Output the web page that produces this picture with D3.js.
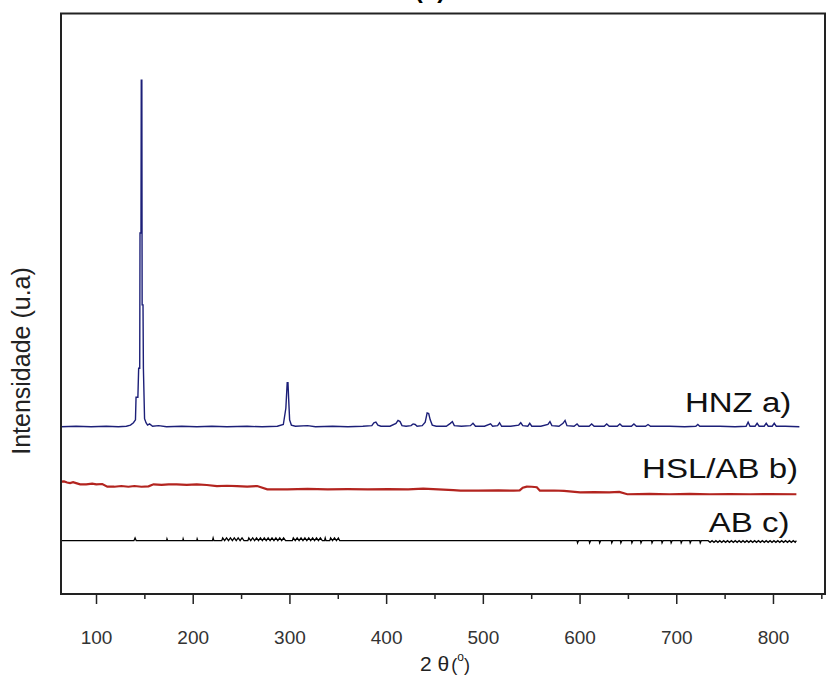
<!DOCTYPE html>
<html>
<head>
<meta charset="utf-8">
<script src="https://cdn.jsdelivr.net/npm/d3@7"></script>
<style>
  html, body { margin: 0; padding: 0; background: #fff; }
  svg { display: block; font-family: "Liberation Sans", Arial, sans-serif; }
</style>
</head>
<body>
<svg id="chart" width="837" height="679"></svg>
<script>
// 2θ tick values on the bottom axis
const majorTicks = [100, 200, 300, 400, 500, 600, 700, 800];
const minorTicks = [150, 250, 350, 450, 550, 650, 750, 850];

// HNZ a) — offset diffractogram, [2θ, intensity]
const hnzData = [
  [63.8,288],[79.4,289],[95,288],[110.6,289],[123.1,288],[131.4,289],[135.6,291],
  [138.7,295],[140.8,300],[141.4,339],[143.3,339],[144.1,389],[145.2,389],[145.5,622],
  [146.5,622],[146.8,885],[147.4,885],[147.7,498],[148.6,498],[149,389],[150.2,302],
  [151.7,295],[153.3,291],[155.4,293],[158.5,289],[164.7,290],[173,288],[188.6,289],
  [204.2,288],[219.8,289],[235.4,288],[256.3,289],[271.9,288],[287.5,289],[293.7,292],
  [296.3,320],[297.7,364],[298.5,364],[299.1,340],[300.2,300],[302,291],[306.2,289],
  [318.7,290],[327,288],[344.7,289],[360.3,288],[375.9,289],[385.2,290],[387.3,295],
  [389.4,296],[391.5,291],[394.6,289],[404,289],[410.2,294],[412.3,299],[414.4,297],
  [416.4,290],[420.6,289],[425.8,290],[427.9,293],[430,292],[432,289],[437.3,290],
  [440.4,296],[442.4,312],[444,311],[445.6,300],[447.7,291],[451.8,289],[462.2,289],
  [466.4,294],[468.5,297],[470.5,290],[477.8,289],[487.2,290],[489.8,294],[492.4,289],
  [501.7,289],[508,293],[510.1,289],[515.3,290],[517.3,295],[519.4,289],[528.8,289],
  [537.1,291],[539.2,295],[541.3,290],[546.5,289],[548.5,294],[550.6,289],[560,289],
  [567.3,292],[569.4,297],[571.4,290],[578.7,289],[582.9,294],[585,299],[587,290],
  [594.3,289],[597.4,293],[599.5,289],[609.9,289],[612.5,293],[615.1,289],[625.5,289],
  [628.1,293],[630.7,289],[639,289],[641.7,293],[644.2,289],[653.6,289],[656.2,293],
  [658.8,289],[668.2,289],[670.8,292],[673.4,289],[693.1,289],[708.7,288],[720.2,289],
  [722.3,292],[724.3,289],[745.1,289],[760.7,288],[772.2,289],[774.3,296],[776.3,289],
  [781.5,289],[783.6,294],[785.7,289],[790.9,289],[793,294],[795.1,289],[799.2,289],
  [801.3,294],[803.4,289],[812.8,289],[827.3,288]
];

// HSL/AB b)
const hslData = [
  [63.8,193.5],[66.9,194],[70.1,192],[73.2,191.2],[76.3,192.5],[79.4,191],[83.6,189],
  [89.8,188.9],[96.1,190],[100.2,188.9],[106.5,189.5],[111.7,185],[118.9,184.8],
  [126.2,186],[133.5,184.8],[139.7,186],[147,184.8],[154.3,185.5],[159.5,188.9],
  [167.8,188],[175.1,189],[183.4,188.9],[193.8,188],[204.2,188.9],[214.6,187.8],
  [225,186],[235.4,186.5],[245.8,186],[256.3,185],[266.7,186],[277.1,180.3],
  [297.9,180.3],[318.7,181],[339.5,180.3],[360.3,180.6],[381.1,180.3],[401.9,180.8],
  [422.7,180.3],[438.3,181.5],[453.9,180.3],[469.5,179],[476.8,178],[495.5,178],
  [516.3,178.4],[531.9,178],[538.1,178.5],[541.3,183],[545.4,185],[550.6,184.8],
  [555.8,184],[559,178],[573.5,178.3],[583.9,177.5],[600.6,175.2],[615.1,175.6],
  [630.7,175.2],[641.1,176],[649.4,171.8],[672.3,172.4],[693.1,171.8],[713.9,172.6],
  [734.7,171.8],[755.5,172],[776.3,171.8],[797.2,172],[824.2,171.8]
];

// AB c)
const abData = [
  [63.8,91.8],[121,91.8],[139.2,91.8],[140.4,96.5],[141.6,91.8],[173,91.8],[173.4,95],
  [174.1,91.8],[189.7,91.8],[190.1,95],[190.7,91.8],[204.2,91.8],[204.6,95],[205.3,91.8],
  [220.4,91.8],[221.1,96.5],[221.9,91.8],
  [230,91.8],[231,96.5],[233,91.8],[235,96.5],[237,91.8],[239,96.5],[241,91.8],
  [243,96.5],[245,91.8],[247,96.5],[249,91.8],[251,96.5],[253,91.8],[254,91.8],
  [257,91.8],[258,96.5],[260,91.8],[262,96.5],[264,91.8],[266,96.5],[268,91.8],
  [270,96.5],[272,91.8],[274,96.5],[276,91.8],[278,96.5],[280,91.8],[282,96.5],
  [284,91.8],[286,96.5],[288,91.8],[290,96.5],[292,91.8],[294,96.5],[296,91.8],
  [298,91.8],
  [303,91.8],[304,96.5],[306,91.8],[308,96.5],[310,91.8],[312,96.5],[314,91.8],
  [316,96.5],[318,91.8],[320,96.5],[322,91.8],[324,96.5],[326,91.8],[328,96.5],
  [330,91.8],[332,96.5],[334,91.8],
  [336.3,91.8],[337,96.5],[337.8,91.8],
  [341.6,91.8],[342.6,96.5],[344.6,91.8],[346.6,96.5],[348.6,91.8],[350.6,96.5],
  [352,91.8],
  [412.3,91.8],[516.3,91.8],[597.4,91.8],[597.9,88],[598.9,91.8],[609.9,91.8],
  [610.4,88],[611.4,91.8],[620.3,91.8],[620.8,88],[621.8,91.8],[632.8,91.8],
  [633.3,88],[634.3,91.8],[642.2,91.8],[642.7,88],[643.7,91.8],[653.6,91.8],
  [654.1,88],[655.1,91.8],[663,91.8],[663.5,88],[664.5,91.8],[674.4,91.8],
  [674.9,88],[675.9,91.8],[684.8,91.8],[685.3,88],[686.3,91.8],[694.2,91.8],
  [694.7,88],[695.7,91.8],[704.6,91.8],[705.1,88],[706.1,91.8],[713.9,91.8],
  [714.4,88],[715.4,91.8],[724.3,91.8],[724.8,88],[725.8,91.8],
  [733,91.8],[735,89],[737,91.8],[739,89],[741,91.8],[743,89],[745,91.8],[747,89],
  [749,91.8],[751,89],[753,91.8],[755,89],[757,91.8],[759,89],[761,91.8],[763,89],
  [765,91.8],[767,89],[769,91.8],[771,89],[773,91.8],[775,89],[777,91.8],[779,89],
  [781,91.8],[783,89],[785,91.8],[787,89],[789,91.8],[791,89],[793,91.8],[795,89],
  [797,91.8],[799,89],[801,91.8],[803,89],[805,91.8],[807,89],[809,91.8],[811,89],
  [813,91.8],[815,89],[817,91.8],[819,89],[821,91.8],[823,89],[824.2,91.8]
];

const seriesLabels = ["HNZ a)", "HSL/AB b)", "AB c)"];
const seriesList = [hnzData, hslData, abData];
const seriesColors = ["#1c1f78", "#b3241f", "#000000"];
const seriesWidths = [1.4, 2.2, 1.3];

const svg = d3.select("#chart");
const W = 837, H = 679;
const margin = { top: 13.5, right: 12, bottom: 85, left: 61 };

const x = d3.scaleLinear().domain([63.8, 853.8]).range([margin.left, W - margin.right]);
const y = d3.scaleLinear().domain([0, 1000]).range([H - margin.bottom, margin.top]);

// panel heading, mostly above the visible area
svg.append("text")
  .attr("x", 430).attr("y", -2)
  .attr("text-anchor", "middle")
  .attr("font-size", 24).attr("font-weight", "bold")
  .text("(b)");

// curves
const line = d3.line().x(d => x(d[0])).y(d => y(d[1]));
seriesList.forEach((s, i) => {
  svg.append("path")
    .datum(s)
    .attr("d", line)
    .attr("fill", "none")
    .attr("stroke", seriesColors[i])
    .attr("stroke-width", seriesWidths[i])
    .attr("stroke-linejoin", "miter");
});

// curve labels (right-aligned, slightly wide lettering)
const labelPos = [
  { xv: 819, yv: 313 },
  { xv: 826, yv: 199 },
  { xv: 817, yv: 106 }
];
seriesLabels.forEach((t, i) => {
  svg.append("text")
    .attr("transform", `translate(${x(labelPos[i].xv)},${y(labelPos[i].yv)}) scale(1.18,1)`)
    .attr("text-anchor", "end")
    .attr("font-size", 28)
    .attr("fill", "#111")
    .text(t);
});

// bottom axis: major ticks with labels, minor ticks without
const xAxis = d3.axisBottom(x).tickValues(majorTicks).tickSize(10).tickPadding(27)
  .tickFormat(d3.format("d"));
const gx = svg.append("g")
  .attr("transform", `translate(0,${H - margin.bottom})`)
  .call(xAxis);
gx.select(".domain").remove();
gx.selectAll(".tick line").attr("stroke", "#222").attr("stroke-width", 1.5);
gx.selectAll(".tick text").attr("font-size", 19).attr("fill", "#333")
  .attr("font-family", "Liberation Sans, Arial, sans-serif");

const gxMinor = svg.append("g")
  .attr("transform", `translate(0,${H - margin.bottom})`)
  .call(d3.axisBottom(x).tickValues(minorTicks).tickSize(5).tickFormat(""));
gxMinor.select(".domain").remove();
gxMinor.selectAll(".tick line").attr("stroke", "#222").attr("stroke-width", 1.5);

// plot frame
svg.append("rect")
  .attr("x", margin.left).attr("y", margin.top)
  .attr("width", W - margin.left - margin.right)
  .attr("height", H - margin.top - margin.bottom)
  .attr("fill", "none").attr("stroke", "#222").attr("stroke-width", 2);

// axis titles
const xt = svg.append("text")
  .attr("x", 445).attr("y", 671)
  .attr("text-anchor", "middle").attr("font-size", 21).attr("fill", "#222");
xt.append("tspan").text("2 θ");
xt.append("tspan").attr("font-size", 18).attr("dx", 2).text("(");
xt.append("tspan").attr("font-size", 12).attr("dy", -10).text("o");
xt.append("tspan").attr("font-size", 18).attr("dy", 10).text(")");

svg.append("text")
  .attr("transform", "translate(30,361) rotate(-90)")
  .attr("text-anchor", "middle").attr("font-size", 25).attr("fill", "#222")
  .text("Intensidade (u.a)");
</script>
</body>
</html>
